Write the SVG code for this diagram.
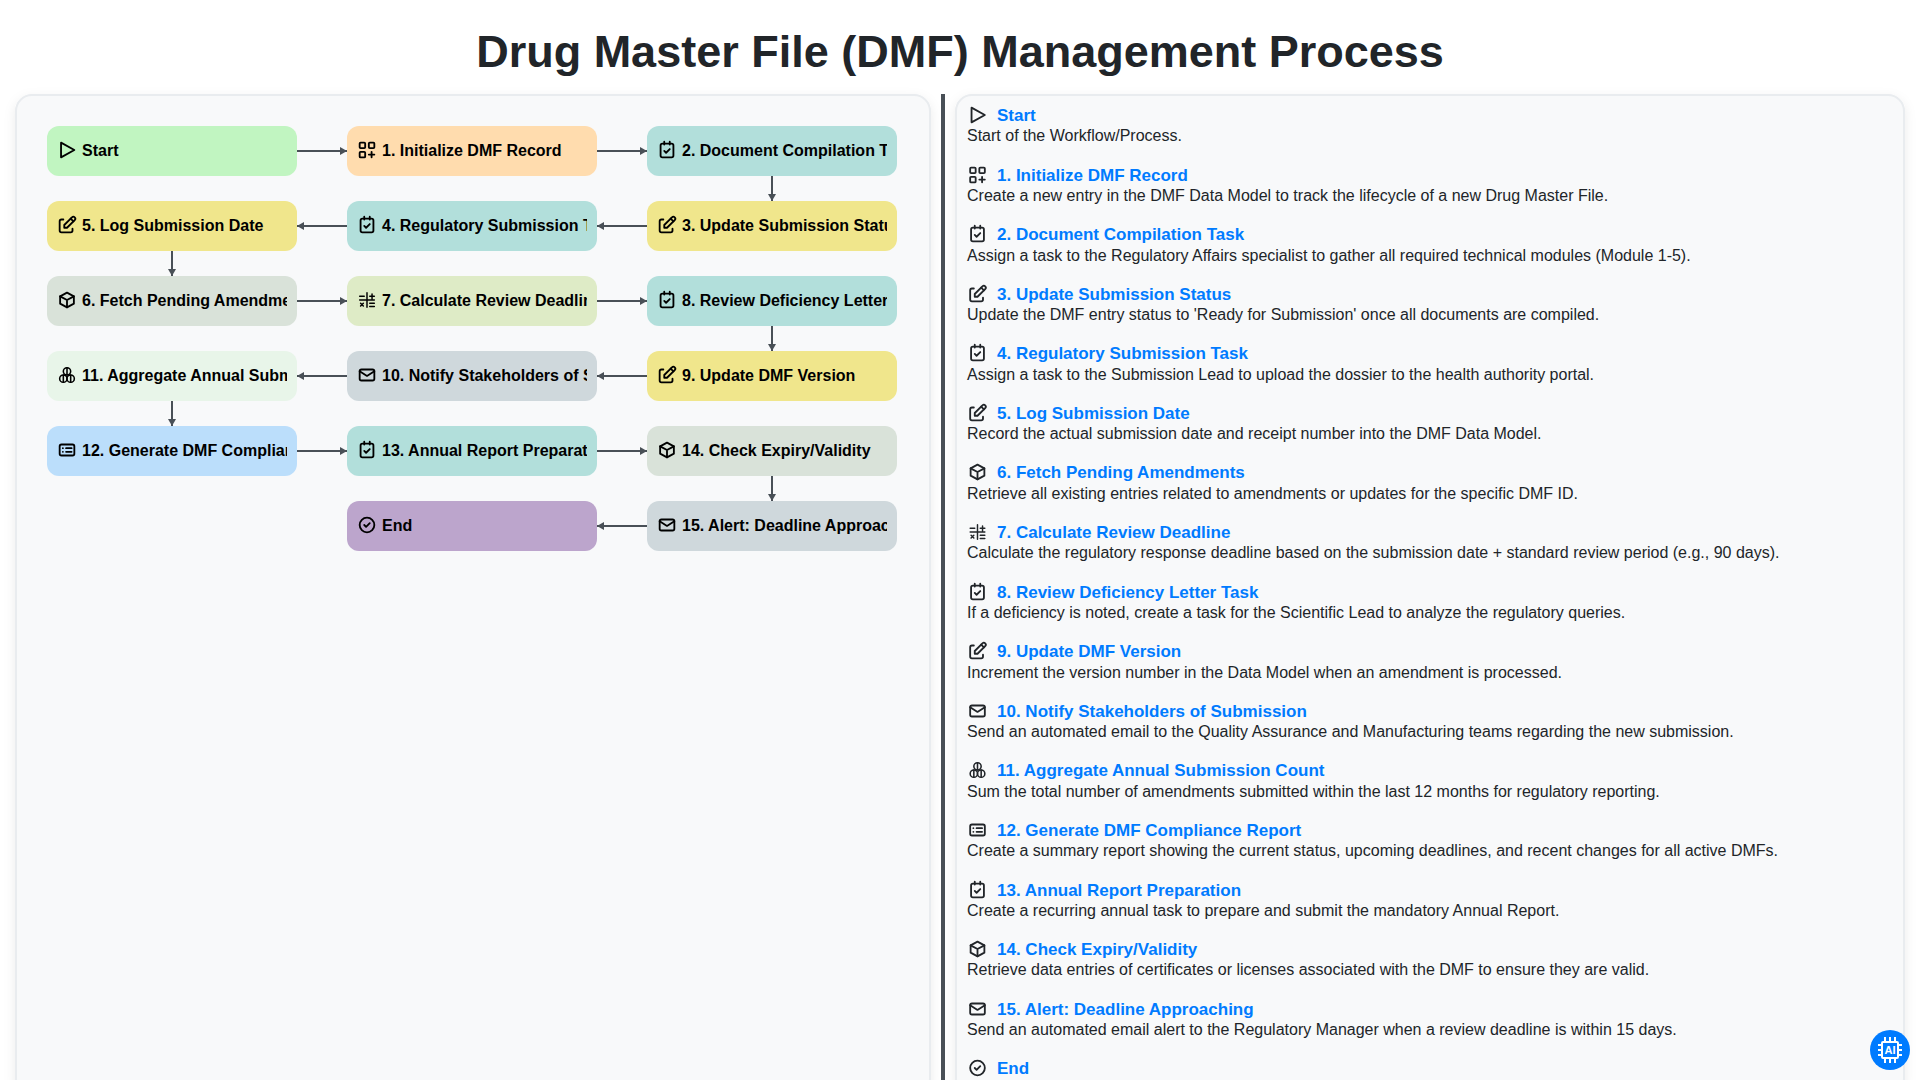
<svg xmlns="http://www.w3.org/2000/svg" width="1920" height="1080" viewBox="0 0 1920 1080">
<defs>
<style>
text{font-family:"Liberation Sans",Arial,sans-serif}
.title{font-size:45px;font-weight:700;fill:#212529;text-anchor:middle}
.panel{fill:#f8f9fa;stroke:#e9ecef;stroke-width:2}
.nt{font-size:16px;font-weight:700;fill:#000}
.st{font-size:17px;font-weight:700;fill:#007bff}
.sd{font-size:16px;fill:#212529}
.ic{fill:none;stroke:#000;stroke-width:2;stroke-linecap:round;stroke-linejoin:round}
.ic2{fill:none;stroke:#212529;stroke-width:2;stroke-linecap:round;stroke-linejoin:round}
.c{stroke:#495057;stroke-width:2;fill:none;marker-end:url(#a)}
</style>
<marker id="a" viewBox="0 0 7 8" refX="7" refY="4" markerUnits="userSpaceOnUse" markerWidth="7" markerHeight="8" orient="auto"><path d="M0 0L7 4L0 8z" fill="#495057"/></marker>
<filter id="sh" x="-5%" y="-5%" width="110%" height="110%"><feDropShadow dx="0" dy="4" stdDeviation="6" flood-color="#000" flood-opacity=".08"/></filter>
<clipPath id="c1"><rect x="47" y="126" width="240" height="450"/></clipPath>
<clipPath id="c2"><rect x="347" y="126" width="240" height="450"/></clipPath>
<clipPath id="c3"><rect x="647" y="126" width="240" height="450"/></clipPath>
<symbol id="i-play" viewBox="0 0 24 24"><path d="M5.500 4v16l14.500-8z"/></symbol>
<symbol id="i-apps" viewBox="0 0 24 24"><rect x="4" y="4" width="6" height="6" rx="1"/><rect x="4" y="14" width="6" height="6" rx="1"/><rect x="14" y="4" width="6" height="6" rx="1"/><path d="M14 17h6M17 14v6"/></symbol>
<symbol id="i-cal" viewBox="0 0 24 24"><rect x="5" y="5" width="14" height="15" rx="2"/><path d="M9 3v3M15 3v3M9 13l2 2 4-4"/></symbol>
<symbol id="i-edit" viewBox="0 0 24 24"><path d="M8 6H6a2 2 0 0 0-2 2v10a2 2 0 0 0 2 2h10a2 2 0 0 0 2-2v-2"/><path d="M20.400 6.600a2.100 2.100 0 0 0-3-3L9 12v3h3z"/><path d="M16 5l3 3"/></symbol>
<symbol id="i-box" viewBox="0 0 24 24"><path d="M12 4l7.500 4v8L12 20l-7.500-4V8z"/><path d="M12 12l7.500-4M12 12v8M12 12L4.500 8"/></symbol>
<symbol id="i-calc" viewBox="0 0 24 24"><path stroke-width="1.600" d="M4 12h16M12 4v16M4 8h5M15 8h5M17.500 5.500v5M15 15.500h5M15 19h5M5 15.500l3 3M8 15.500l-3 3"/></symbol>
<symbol id="i-mail" viewBox="0 0 24 24"><rect x="4" y="6" width="16" height="12" rx="2"/><path d="M4 8l8 5 8-5"/></symbol>
<symbol id="i-clus" viewBox="0 0 24 24" stroke-width="1.700"><circle cx="12" cy="8" r="4"/><circle cx="8" cy="16" r="4"/><circle cx="16" cy="16" r="4"/><path d="M12 4v8M8 12v8M16 12v8"/></symbol>
<symbol id="i-list" viewBox="0 0 24 24"><rect x="4" y="6" width="16" height="12" rx="2"/><path d="M7.500 10h.01M11 10h6M7.500 14h.01M11 14h6"/></symbol>
<symbol id="i-done" viewBox="0 0 24 24"><circle cx="12" cy="12" r="8"/><path d="M9 12l2 2 4-4"/></symbol>
</defs>
<rect width="1920" height="1080" fill="#fff"/>
<text class="title" x="960" y="67">Drug Master File (DMF) Management Process</text>
<rect class="panel" x="16" y="95" width="914" height="1000" rx="16" filter="url(#sh)"/>
<rect x="941" y="94" width="4" height="986" fill="#495057"/>
<rect class="panel" x="956" y="95" width="948" height="1000" rx="16" filter="url(#sh)"/>
<g id="connectors">
<path class="c" d="M297 151H347"/><path class="c" d="M597 151H647"/><path class="c" d="M772 176V201"/>
<path class="c" d="M647 226H597"/><path class="c" d="M347 226H297"/><path class="c" d="M172 251V276"/>
<path class="c" d="M297 301H347"/><path class="c" d="M597 301H647"/><path class="c" d="M772 326V351"/>
<path class="c" d="M647 376H597"/><path class="c" d="M347 376H297"/><path class="c" d="M172 401V426"/>
<path class="c" d="M297 451H347"/><path class="c" d="M597 451H647"/><path class="c" d="M772 476V501"/>
<path class="c" d="M647 526H597"/>
</g>
<g id="n-start"><rect x="47" y="126" width="250" height="50" rx="12" fill="#c1f5c1"/><use href="#i-play" class="ic" x="56" y="139" width="22" height="22"/><text class="nt" x="82" y="156" clip-path="url(#c1)">Start</text></g>
<g id="n-1"><rect x="347" y="126" width="250" height="50" rx="12" fill="#ffdcae"/><use href="#i-apps" class="ic" x="356" y="139" width="22" height="22"/><text class="nt" x="382" y="156" clip-path="url(#c2)">1. Initialize DMF Record</text></g>
<g id="n-2"><rect x="647" y="126" width="250" height="50" rx="12" fill="#b2dfdb"/><use href="#i-cal" class="ic" x="656" y="139" width="22" height="22"/><text class="nt" x="682" y="156" clip-path="url(#c3)">2. Document Compilation Task</text></g>
<g id="n-3"><rect x="647" y="201" width="250" height="50" rx="12" fill="#f0e68c"/><use href="#i-edit" class="ic" x="656" y="214" width="22" height="22"/><text class="nt" x="682" y="231" clip-path="url(#c3)">3. Update Submission Status</text></g>
<g id="n-4"><rect x="347" y="201" width="250" height="50" rx="12" fill="#b2dfdb"/><use href="#i-cal" class="ic" x="356" y="214" width="22" height="22"/><text class="nt" x="382" y="231" clip-path="url(#c2)">4. Regulatory Submission Task</text></g>
<g id="n-5"><rect x="47" y="201" width="250" height="50" rx="12" fill="#f0e68c"/><use href="#i-edit" class="ic" x="56" y="214" width="22" height="22"/><text class="nt" x="82" y="231" clip-path="url(#c1)">5. Log Submission Date</text></g>
<g id="n-6"><rect x="47" y="276" width="250" height="50" rx="12" fill="#d9e2d9"/><use href="#i-box" class="ic" x="56" y="289" width="22" height="22"/><text class="nt" x="82" y="306" clip-path="url(#c1)">6. Fetch Pending Amendments</text></g>
<g id="n-7"><rect x="347" y="276" width="250" height="50" rx="12" fill="#deebc6"/><use href="#i-calc" class="ic" x="356" y="289" width="22" height="22"/><text class="nt" x="382" y="306" clip-path="url(#c2)">7. Calculate Review Deadline</text></g>
<g id="n-8"><rect x="647" y="276" width="250" height="50" rx="12" fill="#b2dfdb"/><use href="#i-cal" class="ic" x="656" y="289" width="22" height="22"/><text class="nt" x="682" y="306" clip-path="url(#c3)">8. Review Deficiency Letter Task</text></g>
<g id="n-9"><rect x="647" y="351" width="250" height="50" rx="12" fill="#f0e68c"/><use href="#i-edit" class="ic" x="656" y="364" width="22" height="22"/><text class="nt" x="682" y="381" clip-path="url(#c3)">9. Update DMF Version</text></g>
<g id="n-10"><rect x="347" y="351" width="250" height="50" rx="12" fill="#cfd8dc"/><use href="#i-mail" class="ic" x="356" y="364" width="22" height="22"/><text class="nt" x="382" y="381" clip-path="url(#c2)">10. Notify Stakeholders of Submission</text></g>
<g id="n-11"><rect x="47" y="351" width="250" height="50" rx="12" fill="#e8f5e9"/><use href="#i-clus" class="ic" x="56" y="364" width="22" height="22"/><text class="nt" x="82" y="381" clip-path="url(#c1)">11. Aggregate Annual Submission Count</text></g>
<g id="n-12"><rect x="47" y="426" width="250" height="50" rx="12" fill="#bbdefb"/><use href="#i-list" class="ic" x="56" y="439" width="22" height="22"/><text class="nt" x="82" y="456" clip-path="url(#c1)">12. Generate DMF Compliance Report</text></g>
<g id="n-13"><rect x="347" y="426" width="250" height="50" rx="12" fill="#b2dfdb"/><use href="#i-cal" class="ic" x="356" y="439" width="22" height="22"/><text class="nt" x="382" y="456" clip-path="url(#c2)">13. Annual Report Preparation</text></g>
<g id="n-14"><rect x="647" y="426" width="250" height="50" rx="12" fill="#d9e2d9"/><use href="#i-box" class="ic" x="656" y="439" width="22" height="22"/><text class="nt" x="682" y="456" clip-path="url(#c3)">14. Check Expiry/Validity</text></g>
<g id="n-15"><rect x="647" y="501" width="250" height="50" rx="12" fill="#cfd8dc"/><use href="#i-mail" class="ic" x="656" y="514" width="22" height="22"/><text class="nt" x="682" y="531" clip-path="url(#c3)">15. Alert: Deadline Approaching</text></g>
<g id="n-end"><rect x="347" y="501" width="250" height="50" rx="12" fill="#bca5cc"/><use href="#i-done" class="ic" x="356" y="514" width="22" height="22"/><text class="nt" x="382" y="531" clip-path="url(#c2)">End</text></g>
<g id="details">
<use href="#i-play" class="ic2" x="966.500" y="104" width="22" height="22"/><text class="st" x="997" y="121">Start</text><text class="sd" x="967" y="141">Start of the Workflow/Process.</text>
<use href="#i-apps" class="ic2" x="966.500" y="164" width="22" height="22"/><text class="st" x="997" y="181">1. Initialize DMF Record</text><text class="sd" x="967" y="201">Create a new entry in the DMF Data Model to track the lifecycle of a new Drug Master File.</text>
<use href="#i-cal" class="ic2" x="966.500" y="223" width="22" height="22"/><text class="st" x="997" y="240">2. Document Compilation Task</text><text class="sd" x="967" y="261">Assign a task to the Regulatory Affairs specialist to gather all required technical modules (Module 1-5).</text>
<use href="#i-edit" class="ic2" x="966.500" y="283" width="22" height="22"/><text class="st" x="997" y="300">3. Update Submission Status</text><text class="sd" x="967" y="320">Update the DMF entry status to 'Ready for Submission' once all documents are compiled.</text>
<use href="#i-cal" class="ic2" x="966.500" y="342" width="22" height="22"/><text class="st" x="997" y="359">4. Regulatory Submission Task</text><text class="sd" x="967" y="380">Assign a task to the Submission Lead to upload the dossier to the health authority portal.</text>
<use href="#i-edit" class="ic2" x="966.500" y="402" width="22" height="22"/><text class="st" x="997" y="419">5. Log Submission Date</text><text class="sd" x="967" y="439">Record the actual submission date and receipt number into the DMF Data Model.</text>
<use href="#i-box" class="ic2" x="966.500" y="461" width="22" height="22"/><text class="st" x="997" y="478">6. Fetch Pending Amendments</text><text class="sd" x="967" y="499">Retrieve all existing entries related to amendments or updates for the specific DMF ID.</text>
<use href="#i-calc" class="ic2" x="966.500" y="521" width="22" height="22"/><text class="st" x="997" y="538">7. Calculate Review Deadline</text><text class="sd" x="967" y="558">Calculate the regulatory response deadline based on the submission date + standard review period (e.g., 90 days).</text>
<use href="#i-cal" class="ic2" x="966.500" y="581" width="22" height="22"/><text class="st" x="997" y="598">8. Review Deficiency Letter Task</text><text class="sd" x="967" y="618">If a deficiency is noted, create a task for the Scientific Lead to analyze the regulatory queries.</text>
<use href="#i-edit" class="ic2" x="966.500" y="640" width="22" height="22"/><text class="st" x="997" y="657">9. Update DMF Version</text><text class="sd" x="967" y="678">Increment the version number in the Data Model when an amendment is processed.</text>
<use href="#i-mail" class="ic2" x="966.500" y="700" width="22" height="22"/><text class="st" x="997" y="717">10. Notify Stakeholders of Submission</text><text class="sd" x="967" y="737">Send an automated email to the Quality Assurance and Manufacturing teams regarding the new submission.</text>
<use href="#i-clus" class="ic2" x="966.500" y="759" width="22" height="22"/><text class="st" x="997" y="776">11. Aggregate Annual Submission Count</text><text class="sd" x="967" y="797">Sum the total number of amendments submitted within the last 12 months for regulatory reporting.</text>
<use href="#i-list" class="ic2" x="966.500" y="819" width="22" height="22"/><text class="st" x="997" y="836">12. Generate DMF Compliance Report</text><text class="sd" x="967" y="856">Create a summary report showing the current status, upcoming deadlines, and recent changes for all active DMFs.</text>
<use href="#i-cal" class="ic2" x="966.500" y="879" width="22" height="22"/><text class="st" x="997" y="896">13. Annual Report Preparation</text><text class="sd" x="967" y="916">Create a recurring annual task to prepare and submit the mandatory Annual Report.</text>
<use href="#i-box" class="ic2" x="966.500" y="938" width="22" height="22"/><text class="st" x="997" y="955">14. Check Expiry/Validity</text><text class="sd" x="967" y="975">Retrieve data entries of certificates or licenses associated with the DMF to ensure they are valid.</text>
<use href="#i-mail" class="ic2" x="966.500" y="998" width="22" height="22"/><text class="st" x="997" y="1015">15. Alert: Deadline Approaching</text><text class="sd" x="967" y="1035">Send an automated email alert to the Regulatory Manager when a review deadline is within 15 days.</text>
<use href="#i-done" class="ic2" x="966.500" y="1057" width="22" height="22"/><text class="st" x="997" y="1074">End</text>
</g>
<g id="ai-button"><circle cx="1890" cy="1050" r="20" fill="#007bff"/><rect x="1882" y="1042" width="16" height="16" rx="1" fill="none" stroke="#fff" stroke-width="2"/><path d="M1885 1037v4M1890 1037v4M1895 1037v4M1885 1059v4M1890 1059v4M1895 1059v4M1878 1045h4M1878 1050h4M1878 1055h4M1898 1045h4M1898 1050h4M1898 1055h4" stroke="#fff" stroke-width="2" fill="none"/><text x="1890" y="1054" text-anchor="middle" font-size="11" font-weight="700" fill="#fff">AI</text></g>
</svg>
